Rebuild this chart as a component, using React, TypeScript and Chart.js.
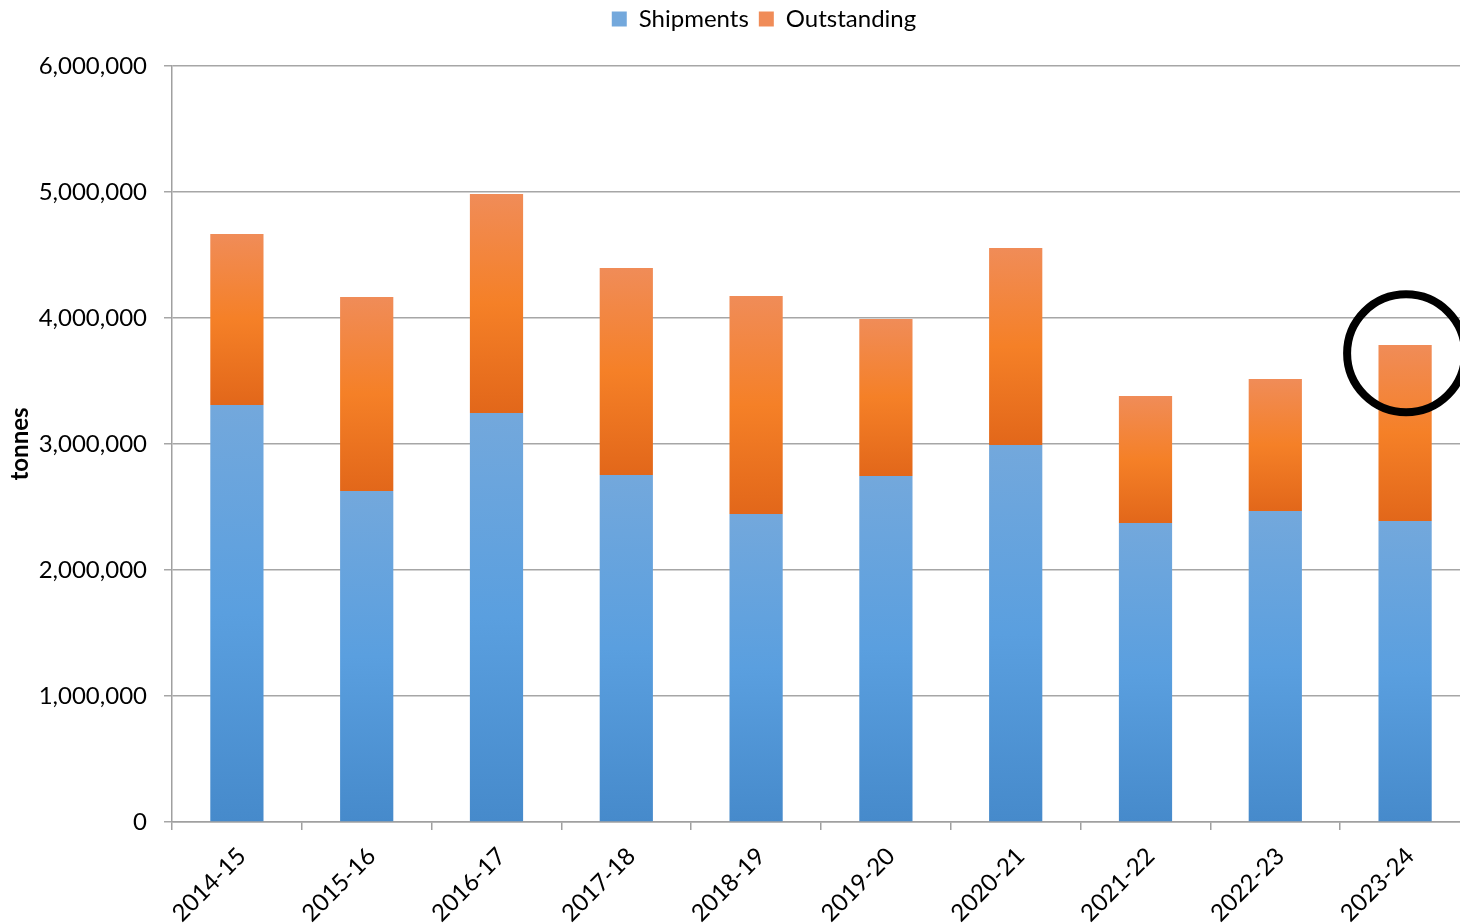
import React, { useEffect, useRef } from "react";
import { Chart, registerables } from "chart.js";

Chart.register(...registerables);

const categories = ["2014-15", "2015-16", "2016-17", "2017-18", "2018-19", "2019-20", "2020-21", "2021-22", "2022-23", "2023-24"];
const shipments = [3310000, 2627000, 3246000, 2754000, 2444000, 2746000, 2992000, 2373000, 2468000, 2389000];
const outstanding = [1357000, 1540000, 1738000, 1643000, 1731000, 1246000, 1564000, 1008000, 1048000, 1397000];
const seriesNames = ["Shipments", "Outstanding"];
const yTicksMax = 6000000;
const yTickStep = 1000000;
const circleCategoryIndex = 9;
const circleValue = 3720000;

const FONT = "Lato, 'Open Sans', sans-serif";

const blueStops: [number, string][] = [
  [0, "#468ACB"],
  [0.5, "#5A9FDF"],
  [1, "#73A8DC"],
];
const orangeStops: [number, string][] = [
  [0, "#E2671A"],
  [0.5, "#F58027"],
  [1, "#F08C58"],
];

function segmentGradient(stops: [number, string][], fallback: string, datasetIndex: number) {
  return (c: any) => {
    const chart = c.chart;
    const y = chart.scales && chart.scales.y;
    if (!y || c.type !== "data") return fallback;
    const i = c.dataIndex;
    const base = datasetIndex === 0 ? 0 : shipments[i];
    const top = base + (datasetIndex === 0 ? shipments[i] : outstanding[i]);
    const yb = y.getPixelForValue(base);
    const yt = y.getPixelForValue(top);
    if (!isFinite(yb) || !isFinite(yt) || yb === yt) return fallback;
    const g = chart.ctx.createLinearGradient(0, yb, 0, yt);
    stops.forEach(([o, col]) => g.addColorStop(o, col));
    return g;
  };
}

const circlePlugin = {
  id: "circleAnnotation",
  afterDatasetsDraw(chart: any) {
    const x = chart.scales.x.getPixelForValue(circleCategoryIndex) + 1;
    const y = chart.scales.y.getPixelForValue(circleValue);
    const ctx = chart.ctx;
    ctx.save();
    ctx.beginPath();
    ctx.arc(x, y, 59, 0, Math.PI * 2);
    ctx.lineWidth = 8;
    ctx.strokeStyle = "#000000";
    ctx.stroke();
    ctx.restore();
  },
};

const legendShiftPlugin = {
  id: "legendShift",
  afterLayout(chart: any) {
    const lg = chart.legend;
    if (lg) {
      const dx = 764 - (lg.left + lg.right) / 2;
      lg.left += dx;
      lg.right += dx;
      lg.top -= 25;
      lg.bottom -= 25;
    }
  },
};

export default function App() {
  const ref = useRef<HTMLCanvasElement | null>(null);
  useEffect(() => {
    if (!ref.current) return;
    const chart = new Chart(ref.current, {
      type: "bar",
      data: {
        labels: categories,
        datasets: [
          {
            label: seriesNames[0],
            data: shipments,
            backgroundColor: segmentGradient(blueStops, "#5B9BD5", 0),
            borderWidth: 0,
            barPercentage: 0.41,
            categoryPercentage: 1,
          },
          {
            label: seriesNames[1],
            data: outstanding,
            backgroundColor: segmentGradient(orangeStops, "#F07F2E", 1),
            borderWidth: 0,
            barPercentage: 0.41,
            categoryPercentage: 1,
          },
        ],
      },
      options: {
        animation: false,
        responsive: false,
        maintainAspectRatio: false,
        layout: { padding: { left: 0, right: 0, top: 22, bottom: 0 } },
        plugins: {
          legend: {
            position: "top",
            labels: {
              boxWidth: 15,
              boxHeight: 15,
              padding: 10,
              color: "#000000",
              font: { family: FONT, size: 24 },
            },
          },
          tooltip: { enabled: false },
        },
        scales: {
          x: {
            stacked: true,
            grid: {
              display: true,
              drawOnChartArea: false,
              drawTicks: true,
              tickLength: 8,
              color: "#A0A0A0",
              lineWidth: 1.5,
            },
            border: { display: true, color: "#A0A0A0", width: 1.5 },
            ticks: {
              color: "#000000",
              font: { family: FONT, size: 24 },
              minRotation: 45,
              maxRotation: 45,
              padding: 12,
              labelOffset: 5,
            },
            afterFit(scale: any) {
              scale.height = 102;
            },
          },
          y: {
            stacked: true,
            min: 0,
            max: yTicksMax,
            grid: {
              color: "#A6A6A6",
              lineWidth: 1.5,
              drawTicks: true,
              tickLength: 8,
            },
            border: { display: true, color: "#A0A0A0", width: 1.5 },
            ticks: {
              stepSize: yTickStep,
              color: "#000000",
              font: { family: FONT, size: 24 },
              padding: 17,
              callback: (v: any) => Number(v).toLocaleString("en-US"),
            },
            title: {
              display: true,
              text: "tonnes",
              color: "#000000",
              font: { family: FONT, size: 24, weight: "bold" },
              padding: { top: 6, bottom: 0 },
            },
            afterFit(scale: any) {
              scale.width = 172;
            },
          },
        },
      },
      plugins: [circlePlugin, legendShiftPlugin],
    });
    return () => chart.destroy();
  }, []);

  return (
    <div style={{ position: "fixed", left: 0, top: 0, width: 1460, height: 924, overflow: "hidden", background: "#fff" }}>
      <canvas ref={ref} width={1470} height={924} style={{ width: 1470, height: 924, display: "block" }} />
    </div>
  );
}
